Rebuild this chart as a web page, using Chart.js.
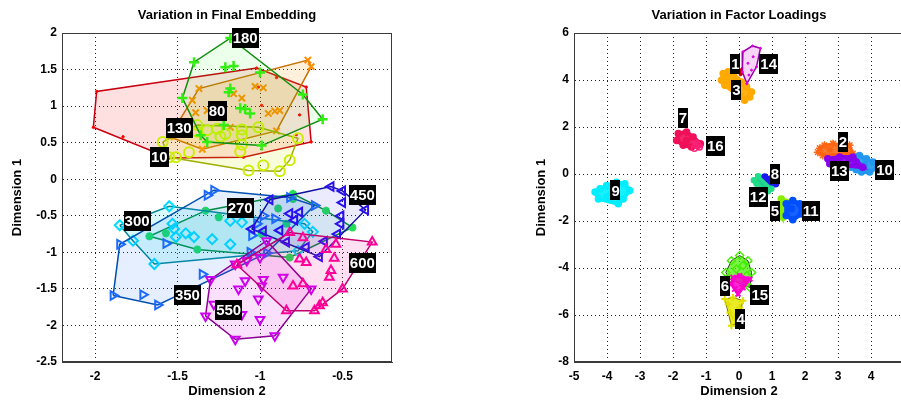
<!DOCTYPE html>
<html>
<head>
<meta charset="utf-8">
<script src="https://cdn.jsdelivr.net/npm/chart.js@4"></script>
<style>
  html, body { margin: 0; padding: 0; background: #fff; overflow: hidden; }
  #wrap { position: relative; width: 901px; height: 403px; overflow: hidden; }
  canvas { position: absolute; top: 0; }
  #left { left: 0; }
  #right { left: 450px; }
</style>
</head>
<body>
<div id="wrap">
  <canvas id="left" width="450" height="403"></canvas>
  <canvas id="right" width="460" height="403"></canvas>
</div>
<script>
const FONT = '"Liberation Sans", Arial, Helvetica, sans-serif';

// ---- left panel: final embedding ----
const leftXTicks = [-2, -1.5, -1, -0.5];
const leftYTicks = [-2.5, -2, -1.5, -1, -0.5, 0, 0.5, 1, 1.5, 2];
const leftNames = ['10', '80', '130', '180', '270', '300', '350', '450', '550', '600'];

const emb10 = [[-1.99, 1.20], [-1.02, 1.52], [-0.72, 1.26], [-0.69, 0.51], [-1.10, 0.30], [-1.55, 0.29], [-2.01, 0.71],
  [-1.83, 0.58], [-0.90, 1.39], [-1.01, 1.26], [-0.99, 1.01], [-0.76, 0.88], [-0.78, 0.61]];
const emb80 = [[-0.71, 1.63], [-0.69, 1.54], [-1.37, 1.24], [-1.03, 1.27], [-0.98, 1.25], [-1.16, 1.17], [-1.11, 1.11],
  [-1.41, 1.08], [-1.39, 0.91], [-0.95, 0.90], [-0.91, 0.93], [-0.88, 0.94], [-0.90, 0.66], [-1.18, 0.71], [-1.35, 0.41],
  [-1.55, 0.58], [-1.32, 0.94]];
const emb130 = [[-1.59, 0.51], [-1.55, 0.30], [-1.43, 0.37], [-1.38, 0.74], [-1.32, 0.67], [-1.26, 0.69], [-1.24, 0.58],
  [-1.21, 0.62], [-1.11, 0.68], [-1.11, 0.60], [-1.01, 0.71], [-1.11, 0.47], [-1.12, 0.38], [-1.07, 0.12], [-0.98, 0.19],
  [-0.88, 0.11], [-0.82, 0.26], [-0.77, 0.56], [-1.51, 0.30], [-1.38, 0.65]];
const emb180 = [[-1.18, 1.93], [-1.40, 1.60], [-1.21, 1.53], [-1.16, 1.55], [-1.00, 1.46], [-1.18, 1.24], [-1.19, 1.19],
  [-1.47, 1.11], [-1.12, 0.97], [-1.09, 0.96], [-1.06, 0.90], [-1.22, 0.74], [-0.74, 1.16], [-0.62, 0.82], [-1.36, 0.60],
  [-1.32, 0.51], [-0.99, 0.46]];
const emb270 = [[-1.67, -0.78], [-1.57, -0.74], [-1.38, -0.96], [-1.33, -0.43], [-1.25, -0.52], [-0.80, -0.20], [-0.80, -0.27],
  [-0.89, -0.40], [-0.84, -0.61], [-0.60, -0.43], [-0.44, -0.66], [-0.99, -0.75], [-0.82, -1.07]];
const emb300 = [[-1.85, -0.63], [-1.77, -0.84], [-1.64, -1.16], [-1.55, -0.37], [-1.53, -0.61], [-1.52, -0.68], [-1.51, -0.79],
  [-1.45, -0.74], [-1.40, -0.79], [-1.29, -0.82], [-1.18, -0.89], [-1.18, -0.57], [-1.11, -0.59], [-0.73, -0.61],
  [-0.68, -0.72], [-0.77, -0.98]];
const emb350 = [[-1.28, -0.15], [-1.32, -0.22], [-1.85, -0.89], [-1.89, -1.59], [-1.71, -1.58], [-1.62, -1.72], [-1.35, -1.30],
  [-1.57, -0.88], [-1.06, -1.00], [-0.96, -1.01], [-1.05, -0.77], [-0.98, -0.50], [-0.91, -0.54], [-0.82, -0.25],
  [-0.67, -0.36], [-1.02, -0.61]];
const emb450 = [[-0.94, -0.28], [-0.57, -0.10], [-0.50, -0.16], [-0.50, -0.32], [-0.36, -0.42], [-0.51, -0.50], [-0.51, -0.61],
  [-0.53, -0.75], [-0.61, -0.85], [-0.64, -1.06], [-0.76, -0.45], [-0.82, -0.47], [-0.79, -0.56], [-0.88, -0.70],
  [-1.05, -0.68], [-0.98, -0.71], [-0.72, -0.93], [-0.84, -0.86]];
const emb550 = [[-0.96, -0.84], [-0.69, -1.50], [-0.91, -2.14], [-1.15, -2.19], [-1.33, -1.87], [-1.30, -1.37], [-1.15, -1.16],
  [-1.08, -1.11], [-1.00, -1.07], [-0.98, -1.37], [-0.99, -1.46], [-1.09, -1.39], [-1.13, -1.50], [-1.01, -1.64],
  [-1.00, -1.92], [-0.86, -1.34], [-1.11, -1.85], [-1.28, -1.71]];
const emb600 = [[-0.82, -0.73], [-0.74, -0.80], [-0.76, -1.09], [-0.72, -1.14], [-0.60, -0.96], [-0.54, -0.89], [-0.55, -1.08],
  [-0.57, -1.25], [-0.58, -1.34], [-0.80, -1.46], [-0.74, -1.43], [-0.50, -1.50], [-0.62, -1.69], [-0.64, -1.73],
  [-0.67, -1.80], [-0.84, -1.80], [-0.32, -0.86], [-1.14, -1.17]];
const leftSeries = [emb10, emb80, emb130, emb180, emb270, emb300, emb350, emb450, emb550, emb600];
const leftLabelAt = [[-1.61, 0.31], [-1.26, 0.93], [-1.49, 0.70], [-1.09, 1.93], [-1.12, -0.39],
  [-1.745, -0.565], [-1.44, -1.58], [-0.38, -0.22], [-1.19, -1.79], [-0.38, -1.14]];

// ---- right panel: factor loadings ----
const rightXTicks = [-5, -4, -3, -2, -1, 0, 1, 2, 3, 4, 5];
const rightYTicks = [-8, -6, -4, -2, 0, 2, 4, 6];
const rightNames = ['1', '2', '3', '4', '5', '6', '7', '8', '9', '10', '11', '12', '13', '14', '15', '16'];

const load1 = [[0.03, 4.40], [0.08, 4.30], [0.10, 4.47], [0.05, 4.24], [-0.02, 4.36]];
const load2 = [[2.39, 0.93], [2.59, 1.22], [2.85, 1.29], [3.05, 1.08], [3.35, 1.22], [3.45, 0.87], [2.54, 0.79], [2.75, 1.04],
  [3.20, 1.00], [2.45, 1.10]];
const load3 = [[-0.48, 4.28], [-0.33, 4.35], [-0.18, 4.28], [-0.53, 3.99], [-0.43, 3.78], [-0.28, 3.85], [-0.13, 3.99],
  [0.07, 3.92], [0.23, 3.71], [0.38, 3.49], [0.33, 3.28], [0.17, 3.14], [0.02, 3.35], [-0.38, 4.11]];
const load4 = [[-0.43, -5.32], [-0.18, -5.25], [0.12, -5.39], [0.02, -5.68], [-0.28, -5.89], [-0.13, -6.11], [-0.23, -6.46],
  [-0.03, -6.32], [-0.33, -5.54]];
const load5 = [[1.28, -1.06], [1.23, -1.48], [1.33, -1.84], [1.43, -1.20], [1.30, -1.65]];
const load6 = [[-0.18, -4.40], [0.02, -4.33], [0.33, -4.47], [-0.13, -4.90], [0.12, -4.83], [-0.03, -5.11], [-0.23, -4.68],
  [0.17, -4.54]];
const load7 = [[-1.84, 1.72], [-1.59, 1.79], [-1.39, 1.57], [-1.89, 1.43], [-1.69, 1.22], [-1.44, 1.15], [-1.24, 1.22],
  [-1.17, 1.29], [-1.59, 1.43]];
const load8 = [[0.63, -0.27], [0.78, -0.13], [0.98, -0.20], [1.11, -0.42], [0.93, -0.56], [0.73, -0.49], [0.83, -0.35]];
const load9 = [[-4.36, -0.77], [-4.21, -0.63], [-4.01, -0.49], [-3.71, -0.35], [-3.46, -0.42], [-3.31, -0.70], [-3.51, -1.06],
  [-3.66, -1.27], [-4.01, -0.99], [-4.26, -1.06], [-3.86, -0.84]];
const load10 = [[3.40, 0.29], [3.65, 0.79], [3.86, 0.65], [4.06, 0.51], [4.21, 0.29], [3.96, 0.08], [3.71, 0.08], [3.55, 0.18],
  [3.80, 0.37]];
const load11 = [[1.43, -1.27], [1.63, -1.13], [1.84, -1.27], [1.89, -1.70], [1.63, -1.95], [1.43, -1.77], [1.59, -1.48]];
const load12 = [[0.45, -0.27], [0.58, -0.10], [0.88, -0.73], [0.98, -0.63], [0.53, -0.42]];
const load13 = [[2.69, 0.65], [2.75, 0.44], [3.05, 0.72], [3.35, 0.65], [3.55, 0.51], [3.75, 0.29], [3.15, 0.37], [2.90, 0.51],
  [3.45, 0.72]];
const load14 = [[0.12, 5.20], [0.41, 5.45], [0.65, 5.35], [0.53, 4.56], [0.24, 3.85], [0.10, 4.35], [0.27, 4.71], [0.38, 4.42],
  [0.30, 4.21], [0.43, 4.99]];
const load15 = [[0.02, -3.47], [-0.23, -3.69], [-0.40, -4.19], [0.27, -3.69], [0.38, -4.19], [0.12, -3.90], [-0.08, -4.04],
  [0.23, -4.33], [0.33, -4.83], [-0.28, -4.47]];
const load16 = [[-1.30, 1.30], [-1.20, 1.15], [-1.35, 1.10], [-1.25, 1.22]];
const rightSeries = [load1, load2, load3, load4, load5, load6, load7, load8, load9, load10, load11, load12, load13, load14, load15, load16];
const rightLabelAt = [[-0.11, 4.67], [3.15, 1.36], [-0.08, 3.57], [0.05, -6.18], [1.09, -1.58], [-0.43, -4.76], [-1.70, 2.37],
  [1.09, 0.01], [-3.74, -0.70], [4.41, 0.19], [2.17, -1.58], [0.58, -0.97], [3.04, 0.12], [0.90, 4.67], [0.63, -5.13], [-0.72, 1.18]];

// ---- styles ----
const leftStyle = [
  { color: '#ff0000', line: '#c80010', fill: 'rgba(255,0,0,0.12)', shape: 'circle', r: 1.2, bw: 1, solid: true },
  { color: '#ff8c00', line: '#c87000', fill: 'rgba(255,150,0,0.14)', shape: 'crossRot', r: 4.5, bw: 2 },
  { color: '#ccee00', line: '#a0b000', fill: 'rgba(210,235,0,0.14)', shape: 'circle', r: 5, bw: 2 },
  { color: '#33ee11', line: '#109010', fill: 'rgba(0,255,0,0.08)', shape: 'cross', r: 5, bw: 2.5 },
  { color: '#22dd55', line: '#008a30', fill: 'rgba(0,200,120,0.10)', shape: 'star', r: 4, bw: 2.5 },
  { color: '#00ddff', line: '#008899', fill: 'rgba(0,220,235,0.15)', shape: 'rectRot', r: 5, bw: 2 },
  { color: '#1a6aff', line: '#0050b0', fill: 'rgba(30,110,255,0.11)', shape: 'triangle', rot: 90, r: 5, bw: 2 },
  { color: '#2a10ee', line: '#1010a0', fill: 'rgba(70,60,255,0.11)', shape: 'triangle', rot: 270, r: 5, bw: 2 },
  { color: '#cc00ee', line: '#8a0090', fill: 'rgba(220,0,245,0.12)', shape: 'triangle', rot: 180, r: 5, bw: 2 },
  { color: '#ff0099', line: '#c00070', fill: 'rgba(255,0,150,0.12)', shape: 'triangle', rot: 0, r: 5, bw: 2 }
];
const rightStyle = [
  { color: '#cc0000', line: '#cc0000', fill: 'rgba(204,0,0,0.8)', shape: 'circle', r: 1.5, bw: 1, lw: 2, solid: true },
  { color: '#ff6611', line: '#ff6611', fill: 'rgba(255,102,17,0.85)', shape: 'star', r: 4, bw: 1.5, lw: 3 },
  { color: '#ffaa00', line: '#ffaa00', fill: 'rgba(255,170,0,0.9)', shape: 'circle', r: 3, bw: 1.5, lw: 4, solid: true },
  { color: '#e0e000', line: '#777700', fill: 'rgba(230,230,0,0.85)', shape: 'cross', r: 3.5, bw: 2, lw: 1 },
  { color: '#88ee00', line: '#88ee00', fill: 'rgba(136,238,0,0.9)', shape: 'circle', r: 3, bw: 1.5, lw: 4, solid: true },
  { color: '#ff00cc', line: '#ff00cc', fill: 'rgba(255,0,204,0.85)', shape: 'crossRot', r: 3.5, bw: 2, lw: 3, top: true },
  { color: '#f0105a', line: '#f0105a', fill: 'rgba(240,16,90,0.9)', shape: 'circle', r: 3, bw: 1.5, lw: 4, solid: true },
  { color: '#1a1aee', line: '#1a1aee', fill: 'rgba(26,26,238,0.9)', shape: 'circle', r: 3, bw: 1.5, lw: 4, solid: true },
  { color: '#00eeff', line: '#00eeff', fill: 'rgba(0,238,255,0.9)', shape: 'circle', r: 3, bw: 1.5, lw: 4, solid: true },
  { color: '#2299ee', line: '#2299ee', fill: 'rgba(34,153,238,0.9)', shape: 'circle', r: 3, bw: 1.5, lw: 4, solid: true },
  { color: '#0050ff', line: '#0050ff', fill: 'rgba(0,80,255,0.9)', shape: 'circle', r: 3, bw: 1.5, lw: 4, solid: true },
  { color: '#22dd88', line: '#22dd88', fill: 'rgba(34,221,136,0.9)', shape: 'circle', r: 2.5, bw: 1.5, lw: 3, solid: true },
  { color: '#8800ee', line: '#8800ee', fill: 'rgba(136,0,238,0.9)', shape: 'circle', r: 3, bw: 1.5, lw: 4, solid: true },
  { color: '#dd00dd', line: '#9900aa', fill: 'rgba(245,200,245,0.8)', shape: 'circle', r: 1, bw: 1, lw: 1.5, solid: true },
  { color: '#44ee00', line: '#333333', fill: 'rgba(68,238,0,0.7)', shape: 'rectRot', r: 4, bw: 1.5, lw: 1 },
  { color: '#ff2277', line: '#ff2277', fill: 'rgba(255,34,119,0.7)', shape: 'circle', r: 3, bw: 1.5, lw: 2 }
];

// convex hull (monotone chain), closed
const hull = (pts) => {
  const p = pts.map(([x, y]) => ({ x, y })).sort((a, b) => a.x - b.x || a.y - b.y);
  const cross = (o, a, b) => (a.x - o.x) * (b.y - o.y) - (a.y - o.y) * (b.x - o.x);
  const lower = [], upper = [];
  p.forEach((q) => {
    while (lower.length >= 2 && cross(lower[lower.length - 2], lower[lower.length - 1], q) <= 0) lower.pop();
    lower.push(q);
  });
  p.slice().reverse().forEach((q) => {
    while (upper.length >= 2 && cross(upper[upper.length - 2], upper[upper.length - 1], q) <= 0) upper.pop();
    upper.push(q);
  });
  const h = lower.slice(0, -1).concat(upper.slice(0, -1));
  return h.concat([h[0]]);
};

const buildSets = (series, styles) => {
  const sets = [];
  series.forEach((pts, i) => {
    const st = styles[i];
    const base = st.top ? 100 : 1000 - 2 * i;
    sets.push({
      type: 'line', data: hull(pts), borderColor: st.line, borderWidth: st.lw || 1.5, backgroundColor: st.fill,
      fill: 'shape', pointRadius: 0, tension: 0, order: base
    });
    sets.push({
      type: 'scatter', data: pts.map(([x, y]) => ({ x, y })), pointStyle: st.shape, pointRotation: st.rot || 0,
      pointRadius: st.r, pointBorderColor: st.color, pointBackgroundColor: st.solid ? st.color : 'rgba(0,0,0,0)',
      pointBorderWidth: st.bw, order: base - 1
    });
  });
  return sets;
};

const makeDecor = (title, names, at) => ({
  id: 'decor',
  afterDraw(chart) {
    const { ctx, chartArea: a, scales: { x, y } } = chart;
    ctx.save();
    ctx.strokeStyle = '#3a3a3a';
    ctx.lineWidth = 1;
    ctx.strokeRect(a.left + 0.5, a.top + 0.5, a.right - a.left - 1, a.bottom - a.top - 1);
    ctx.fillStyle = '#000';
    ctx.font = `bold 13px ${FONT}`;
    ctx.textAlign = 'center';
    ctx.textBaseline = 'alphabetic';
    ctx.fillText(title, (a.left + a.right) / 2, 19);
    ctx.font = `bold 15px ${FONT}`;
    ctx.textBaseline = 'middle';
    names.forEach((n, i) => {
      const px = x.getPixelForValue(at[i][0]);
      const py = y.getPixelForValue(at[i][1]);
      const w = ctx.measureText(n).width + 2;
      ctx.fillStyle = '#000';
      ctx.fillRect(Math.round(px - w / 2), Math.round(py - 10), Math.round(w), 20);
      ctx.fillStyle = '#fff';
      ctx.fillText(n, px, py + 1);
    });
    ctx.restore();
  }
});

const makeScale = (min, max, ticks, title, horizontal, size) => ({
  type: 'linear', min, max,
  afterBuildTicks: (s) => { s.ticks = ticks.map((v) => ({ value: v })); },
  afterFit: (s) => {
    if (horizontal) s.height = size; else s.width = size;
    s.paddingLeft = s.paddingRight = s.paddingTop = s.paddingBottom = 0;
  },
  grid: { color: '#222', lineWidth: 1, drawTicks: false },
  border: { display: true, color: '#3a3a3a', dash: [1, 3] },
  ticks: {
    color: '#000', font: { family: FONT, size: 12, weight: 'bold' }, padding: horizontal ? 7 : 5,
    autoSkip: false, maxRotation: 0, callback: (v) => String(v)
  },
  title: { display: true, text: title, color: '#000', font: { family: FONT, size: 13, weight: 'bold' }, padding: 0 }
});

const makeChart = (id, series, styles, names, at, title, xr, yr, xt, yt, pad, yWidth) => new Chart(document.getElementById(id), {
  type: 'scatter',
  data: { datasets: buildSets(series, styles) },
  options: {
    responsive: false, animation: false, events: [],
    layout: { padding: pad },
    plugins: { legend: { display: false }, tooltip: { enabled: false } },
    scales: {
      x: makeScale(xr[0], xr[1], xt, 'Dimension 2', true, 37),
      y: makeScale(yr[0], yr[1], yt, 'Dimension 1', false, yWidth)
    }
  },
  plugins: [makeDecor(title, names, at)]
});

makeChart('left', leftSeries, leftStyle, leftNames, leftLabelAt, 'Variation in Final Embedding',
  [-2.2, -0.2], [-2.5, 2], leftXTicks, leftYTicks, { left: 10, right: 58, top: 33, bottom: 4 }, 52);
makeChart('right', rightSeries, rightStyle, rightNames, rightLabelAt, 'Variation in Factor Loadings',
  [-5, 5], [-8, 6], rightXTicks, rightYTicks, { left: 84, right: 5.5, top: 33, bottom: 4 }, 40);
</script>
</body>
</html>
